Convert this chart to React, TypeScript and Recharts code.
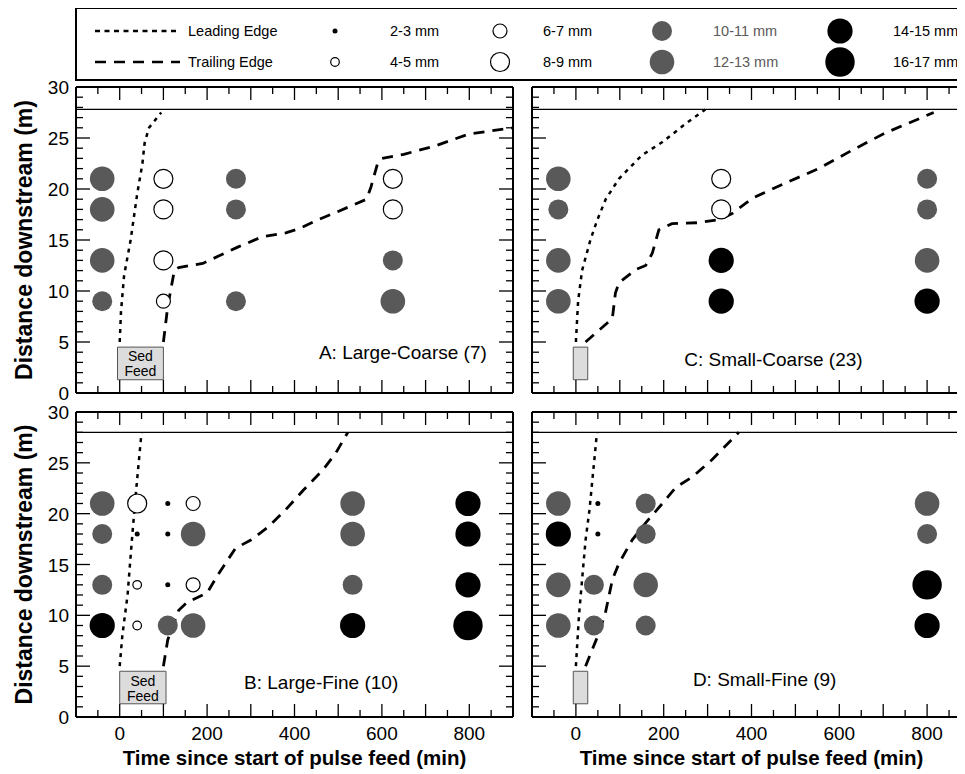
import React from 'react';
import {
  ComposedChart,
  Scatter,
  Line,
  XAxis,
  YAxis,
  ReferenceLine,
  ReferenceArea,
  ReferenceDot,
} from 'recharts';

// ---------------- data ----------------
const timeTicks = [-100, -50, 0, 50, 100, 150, 200, 250, 300, 350, 400, 450, 500, 550, 600, 650, 700, 750, 800, 850, 900];
const timeLabels = [0, 200, 400, 600, 800];
const distTicks = [0, 1, 2, 3, 4, 5, 6, 7, 8, 9, 10, 11, 12, 13, 14, 15, 16, 17, 18, 19, 20, 21, 22, 23, 24, 25, 26, 27, 28, 29, 30];
const distLabels = [0, 5, 10, 15, 20, 25, 30];

const sizeClasses = ['2-3', '4-5', '6-7', '8-9', '10-11', '12-13', '14-15', '16-17'];

// Panel A: Large-Coarse (7)
const grainsA = [
  { t: -40, d: 21, s: '12-13' }, { t: -40, d: 18, s: '12-13' }, { t: -40, d: 13, s: '12-13' }, { t: -40, d: 9, s: '10-11' },
  { t: 100, d: 21, s: '8-9' }, { t: 100, d: 18, s: '8-9' }, { t: 100, d: 13, s: '8-9' }, { t: 100, d: 9, s: '6-7' },
  { t: 266, d: 21, s: '10-11' }, { t: 266, d: 18, s: '10-11' }, { t: 266, d: 9, s: '10-11' },
  { t: 625, d: 21, s: '8-9' }, { t: 625, d: 18, s: '8-9' }, { t: 625, d: 13, s: '10-11' }, { t: 625, d: 9, s: '12-13' },
];
const leadA = [
  { t: 0, d: 5 }, { t: 3, d: 8 }, { t: 10, d: 11.5 }, { t: 25, d: 15 }, { t: 40, d: 19.5 },
  { t: 52, d: 22.5 }, { t: 57, d: 24.5 }, { t: 67, d: 26 }, { t: 95, d: 27.5 },
];
const trailA = [
  { t: 100, d: 5 }, { t: 110, d: 8.5 }, { t: 125, d: 12 }, { t: 135, d: 12.3 }, { t: 190, d: 12.7 },
  { t: 225, d: 13.4 }, { t: 270, d: 14.3 }, { t: 325, d: 15.3 }, { t: 380, d: 15.7 }, { t: 410, d: 16.1 },
  { t: 455, d: 17 }, { t: 500, d: 17.8 }, { t: 565, d: 19 }, { t: 575, d: 20.2 }, { t: 590, d: 22.5 },
  { t: 600, d: 23 }, { t: 650, d: 23.4 }, { t: 720, d: 24.2 }, { t: 800, d: 25.4 }, { t: 900, d: 26 },
];

// Panel B: Large-Fine (10)
const grainsB = [
  { t: -40, d: 21, s: '12-13' }, { t: -40, d: 18, s: '10-11' }, { t: -40, d: 13, s: '10-11' }, { t: -40, d: 9, s: '14-15' },
  { t: 40, d: 21, s: '8-9' }, { t: 40, d: 18, s: '2-3' }, { t: 40, d: 13, s: '4-5' }, { t: 40, d: 9, s: '4-5' },
  { t: 110, d: 21, s: '2-3' }, { t: 110, d: 18, s: '2-3' }, { t: 110, d: 13, s: '2-3' }, { t: 110, d: 9, s: '10-11' },
  { t: 168, d: 21, s: '6-7' }, { t: 168, d: 18, s: '12-13' }, { t: 168, d: 13, s: '6-7' }, { t: 168, d: 9, s: '12-13' },
  { t: 533, d: 21, s: '12-13' }, { t: 533, d: 18, s: '12-13' }, { t: 533, d: 13, s: '10-11' }, { t: 533, d: 9, s: '14-15' },
  { t: 797, d: 21, s: '14-15' }, { t: 797, d: 18, s: '14-15' }, { t: 797, d: 13, s: '14-15' }, { t: 797, d: 9, s: '16-17' },
];
const leadB = [
  { t: 0, d: 5 }, { t: 6, d: 8 }, { t: 18, d: 12 }, { t: 29, d: 18 }, { t: 38, d: 22.5 }, { t: 50, d: 28 },
];
const trailB = [
  { t: 100, d: 5 }, { t: 110, d: 7.6 }, { t: 135, d: 10.5 }, { t: 155, d: 11.3 }, { t: 200, d: 12.2 },
  { t: 225, d: 14 }, { t: 265, d: 16.6 }, { t: 300, d: 17.4 }, { t: 340, d: 18.7 }, { t: 380, d: 20.4 },
  { t: 420, d: 22.3 }, { t: 465, d: 24.3 }, { t: 495, d: 26 }, { t: 522, d: 28 },
];

// Panel C: Small-Coarse (23)
const grainsC = [
  { t: -40, d: 21, s: '12-13' }, { t: -40, d: 18, s: '10-11' }, { t: -40, d: 13, s: '12-13' }, { t: -40, d: 9, s: '12-13' },
  { t: 331, d: 21, s: '8-9' }, { t: 331, d: 18, s: '8-9' }, { t: 331, d: 13, s: '14-15' }, { t: 331, d: 9, s: '14-15' },
  { t: 800, d: 21, s: '10-11' }, { t: 800, d: 18, s: '10-11' }, { t: 800, d: 13, s: '12-13' }, { t: 800, d: 9, s: '14-15' },
];
const leadC = [
  { t: 0, d: 5 }, { t: 5, d: 9 }, { t: 14, d: 12 }, { t: 33, d: 15 }, { t: 49, d: 17 }, { t: 68, d: 19 },
  { t: 98, d: 21 }, { t: 150, d: 23.3 }, { t: 197, d: 24.6 }, { t: 250, d: 26.4 }, { t: 295, d: 27.8 },
];
const trailC = [
  { t: 22, d: 5 }, { t: 83, d: 7.3 }, { t: 90, d: 9.8 }, { t: 98, d: 10.8 }, { t: 136, d: 12.1 },
  { t: 159, d: 12.5 }, { t: 174, d: 13.7 }, { t: 189, d: 16 }, { t: 219, d: 16.6 }, { t: 280, d: 16.7 },
  { t: 326, d: 17 }, { t: 356, d: 17.6 }, { t: 402, d: 19.1 }, { t: 478, d: 20.6 }, { t: 553, d: 22 },
  { t: 629, d: 23.8 }, { t: 705, d: 25.5 }, { t: 815, d: 27.5 },
];

// Panel D: Small-Fine (9)
const grainsD = [
  { t: -40, d: 21, s: '12-13' }, { t: -40, d: 18, s: '14-15' }, { t: -40, d: 13, s: '12-13' }, { t: -40, d: 9, s: '12-13' },
  { t: 41, d: 13, s: '10-11' }, { t: 41, d: 9, s: '10-11' },
  { t: 50, d: 21, s: '2-3' }, { t: 50, d: 18, s: '2-3' },
  { t: 159, d: 21, s: '10-11' }, { t: 159, d: 18, s: '10-11' }, { t: 159, d: 13, s: '12-13' }, { t: 159, d: 9, s: '10-11' },
  { t: 800, d: 21, s: '12-13' }, { t: 800, d: 18, s: '10-11' }, { t: 800, d: 13, s: '16-17' }, { t: 800, d: 9, s: '14-15' },
];
const leadD = [
  { t: 0, d: 5 }, { t: 7, d: 10 }, { t: 22, d: 17.4 }, { t: 31, d: 20.4 }, { t: 48, d: 28 },
];
const trailD = [
  { t: 22, d: 5 }, { t: 52, d: 8.2 }, { t: 67, d: 10.2 }, { t: 83, d: 13.5 }, { t: 98, d: 15.1 },
  { t: 128, d: 17.4 }, { t: 159, d: 19.1 }, { t: 197, d: 21 }, { t: 228, d: 22.6 }, { t: 265, d: 23.6 },
  { t: 310, d: 25.3 }, { t: 371, d: 28 },
];

const panelTitles = ['A: Large-Coarse (7)', 'B: Large-Fine (10)', 'C: Small-Coarse (23)', 'D: Small-Fine (9)'];
const legendLines = ['Leading Edge', 'Trailing Edge'];

// ---------------- styles ----------------
const FONT = '"Liberation Sans", Arial, Helvetica, sans-serif';
const GRAY = '#595959';
const SIZE_STYLE: Record<string, { r: number; fill: string; stroke: string }> = {
  '2-3': { r: 2.5, fill: '#000', stroke: 'none' },
  '4-5': { r: 4.3, fill: '#fff', stroke: '#000' },
  '6-7': { r: 7, fill: '#fff', stroke: '#000' },
  '8-9': { r: 9.5, fill: '#fff', stroke: '#000' },
  '10-11': { r: 10, fill: GRAY, stroke: 'none' },
  '12-13': { r: 12.3, fill: GRAY, stroke: 'none' },
  '14-15': { r: 12.6, fill: '#000', stroke: 'none' },
  '16-17': { r: 14.7, fill: '#000', stroke: 'none' },
};
const LEAD_DASH = '4 5';
const TRAIL_DASH = '11 8';

const GrainShape = (props: any) => {
  const { cx, cy, payload } = props;
  const st = SIZE_STYLE[payload.s];
  if (cx == null || cy == null || !st) return <g />;
  return <circle cx={cx} cy={cy} r={st.r} fill={st.fill} stroke={st.stroke} strokeWidth={1.2} />;
};

const makeTick = (side: 'bottom' | 'top' | 'left' | 'right', showLabel: boolean) => (props: any) => {
  const { x, y, payload } = props;
  const v = payload.value;
  if (side === 'bottom' || side === 'top') {
    const major = v % 100 === 0;
    const len = major ? 13 : 7;
    const dir = side === 'bottom' ? -1 : 1;
    return (
      <g>
        <line x1={x} y1={y} x2={x} y2={y + dir * len} stroke="#000" strokeWidth={1.3} />
        {showLabel && timeLabels.includes(v) ? (
          <text x={x} y={y + 23} textAnchor="middle" fontSize={19} fontFamily={FONT} fill="#000">
            {v}
          </text>
        ) : null}
      </g>
    );
  }
  const major = v % 5 === 0;
  const len = major ? 14 : 7;
  const dir = side === 'left' ? 1 : -1;
  return (
    <g>
      <line x1={x} y1={y} x2={x + dir * len} y2={y} stroke="#000" strokeWidth={1.3} />
      {showLabel && distLabels.includes(v) ? (
        <text x={x - 7} y={y + 7} textAnchor="end" fontSize={19} fontFamily={FONT} fill="#000">
          {v}
        </text>
      ) : null}
    </g>
  );
};

const YTitle = (props: any) => {
  const vb = props.viewBox || {};
  const cx = vb.x + 24;
  const cy = vb.y + vb.height / 2;
  return (
    <text
      x={cx}
      y={cy}
      transform={`rotate(-90 ${cx} ${cy})`}
      textAnchor="middle"
      dominantBaseline="central"
      fontSize={23}
      fontWeight="bold"
      fontFamily={FONT}
      fill="#000"
    >
      Distance downstream (m)
    </text>
  );
};

const XTitle = (props: any) => {
  const vb = props.viewBox || {};
  return (
    <text
      x={vb.x + vb.width / 2}
      y={vb.y + 48}
      textAnchor="middle"
      fontSize={20.5}
      fontWeight="bold"
      fontFamily={FONT}
      fill="#000"
    >
      Time since start of pulse feed (min)
    </text>
  );
};

const SedLabel = (props: any) => {
  const vb = props.viewBox || {};
  const cx = vb.x + vb.width / 2;
  const cy = vb.y + vb.height / 2;
  return (
    <g>
      <text x={cx} y={cy - 2} textAnchor="middle" fontSize={14} fontFamily={FONT} fill="#000">
        Sed
      </text>
      <text x={cx} y={cy + 13} textAnchor="middle" fontSize={14} fontFamily={FONT} fill="#000">
        Feed
      </text>
    </g>
  );
};

type PanelProps = {
  plotLeft: number;
  plotTop: number;
  plotW: number;
  plotH: number;
  leftW: number;
  botH: number;
  showX: boolean;
  showY: boolean;
  grains: any[];
  lead: any[];
  trail: any[];
  feedX: [number, number];
  feedText: boolean;
  title: string;
  titleAt: [number, number];
  lineY: number;
};

function Panel(p: PanelProps) {
  const TOP = 18;
  const RIGHT = 8;
  return (
    <div style={{ position: 'absolute', left: p.plotLeft - p.leftW, top: p.plotTop - TOP }}>
      <ComposedChart
        width={p.leftW + p.plotW + RIGHT}
        height={TOP + p.plotH + p.botH}
        margin={{ top: 0, right: 0, bottom: 0, left: 0 }}
      >
        <XAxis
          xAxisId="b"
          type="number"
          dataKey="t"
          domain={[-100, 900]}
          allowDataOverflow
          ticks={timeTicks}
          interval={0}
          height={p.botH}
          tickLine={false}
          tickSize={0}
          tickMargin={0}
          axisLine={{ stroke: '#000', strokeWidth: 2 }}
          tick={makeTick('bottom', p.showX)}
          label={p.showX ? { content: XTitle } : undefined}
        />
        <XAxis
          xAxisId="t"
          orientation="top"
          type="number"
          dataKey="t"
          domain={[-100, 900]}
          allowDataOverflow
          ticks={timeTicks}
          interval={0}
          height={TOP}
          tickLine={false}
          tickSize={0}
          tickMargin={0}
          axisLine={{ stroke: '#000', strokeWidth: 2 }}
          tick={makeTick('top', false)}
        />
        <YAxis
          yAxisId="l"
          type="number"
          dataKey="d"
          domain={[0, 30]}
          allowDataOverflow
          ticks={distTicks}
          interval={0}
          width={p.leftW}
          tickLine={false}
          tickSize={0}
          tickMargin={0}
          axisLine={{ stroke: '#000', strokeWidth: 2 }}
          tick={makeTick('left', p.showY)}
          label={p.showY ? { content: YTitle } : undefined}
        />
        <YAxis
          yAxisId="r"
          orientation="right"
          type="number"
          dataKey="d"
          domain={[0, 30]}
          allowDataOverflow
          ticks={distTicks}
          interval={0}
          width={RIGHT}
          tickLine={false}
          tickSize={0}
          tickMargin={0}
          axisLine={{ stroke: '#000', strokeWidth: 2 }}
          tick={makeTick('right', false)}
        />
        <ReferenceLine xAxisId="b" yAxisId="l" y={p.lineY} stroke="#000" strokeWidth={1.3} />
        <ReferenceArea
          xAxisId="b"
          yAxisId="l"
          x1={p.feedX[0]}
          x2={p.feedX[1]}
          y1={1.3}
          y2={4.5}
          fill="#dcdcdc"
          fillOpacity={1}
          stroke="#555"
          strokeWidth={1}
          label={p.feedText ? { content: SedLabel } : undefined}
        />
        <ReferenceDot
          xAxisId="b"
          yAxisId="l"
          x={p.titleAt[0]}
          y={p.titleAt[1]}
          r={0}
          fill="none"
          stroke="none"
          label={{ value: p.title, position: 'center', fontSize: 19, fill: '#000', fontFamily: FONT }}
        />
        <Scatter
          xAxisId="b"
          yAxisId="l"
          data={p.grains}
          dataKey="d"
          shape={GrainShape}
          isAnimationActive={false}
        />
        <Line
          xAxisId="b"
          yAxisId="l"
          data={p.lead}
          dataKey="d"
          type="linear"
          stroke="#000"
          strokeWidth={2.5}
          strokeDasharray={LEAD_DASH}
          dot={false}
          activeDot={false}
          isAnimationActive={false}
        />
        <Line
          xAxisId="b"
          yAxisId="l"
          data={p.trail}
          dataKey="d"
          type="linear"
          stroke="#000"
          strokeWidth={2.8}
          strokeDasharray={TRAIL_DASH}
          dot={false}
          activeDot={false}
          isAnimationActive={false}
        />
      </ComposedChart>
    </div>
  );
}

function LegendBox() {
  const row = [31, 62];
  const cols = [
    { cx: 335, lx: 390, color: '#000' },
    { cx: 500, lx: 543, color: '#000' },
    { cx: 662, lx: 713, color: GRAY },
    { cx: 840, lx: 893, color: '#000' },
  ];
  return (
    <svg width={965} height={86} style={{ position: 'absolute', left: 0, top: 0 }}>
      <rect x={76} y={8} width={920} height={72} fill="#fff" stroke="#000" strokeWidth={2} />
      <line x1={95} y1={row[0]} x2={180} y2={row[0]} stroke="#000" strokeWidth={2.5} strokeDasharray="5 4.5" />
      <line x1={95} y1={row[1]} x2={180} y2={row[1]} stroke="#000" strokeWidth={2.5} strokeDasharray="11 8" />
      {legendLines.map((t, i) => (
        <text key={t} x={188} y={row[i] + 5} fontSize={14.5} fontFamily={FONT} fill="#000">
          {t}
        </text>
      ))}
      {sizeClasses.map((s, i) => {
        const c = cols[Math.floor(i / 2)];
        const y = row[i % 2];
        const st = SIZE_STYLE[s];
        return (
          <g key={s}>
            <circle cx={c.cx} cy={y} r={st.r} fill={st.fill} stroke={st.stroke} strokeWidth={1.2} />
            <text x={c.lx} y={y + 5} fontSize={14.5} fontFamily={FONT} fill={c.color}>
              {s} mm
            </text>
          </g>
        );
      })}
    </svg>
  );
}

export default function App() {
  return (
    <div
      style={{
        position: 'relative',
        width: 965,
        height: 774,
        overflow: 'hidden',
        margin: '-8px 0 0 -8px',
        background: '#fff',
        fontFamily: FONT,
      }}
    >
      <LegendBox />
      <Panel
        plotLeft={76} plotTop={87} plotW={437} plotH={306} leftW={76} botH={18}
        showX={false} showY={true}
        grains={grainsA} lead={leadA} trail={trailA}
        feedX={[-5, 100]} feedText={true}
        title={panelTitles[0]} titleAt={[648, 3.95]} lineY={27.8}
      />
      <Panel
        plotLeft={76} plotTop={412} plotW={437} plotH={305} leftW={76} botH={60}
        showX={true} showY={true}
        grains={grainsB} lead={leadB} trail={trailB}
        feedX={[0, 106]} feedText={true}
        title={panelTitles[1]} titleAt={[461, 3.37]} lineY={28}
      />
      <Panel
        plotLeft={532} plotTop={87} plotW={439} plotH={306} leftW={8} botH={18}
        showX={false} showY={false}
        grains={grainsC} lead={leadC} trail={trailC}
        feedX={[-6, 27]} feedText={false}
        title={panelTitles[2]} titleAt={[450, 3.33]} lineY={27.8}
      />
      <Panel
        plotLeft={532} plotTop={412} plotW={439} plotH={305} leftW={8} botH={60}
        showX={true} showY={false}
        grains={grainsD} lead={leadD} trail={trailD}
        feedX={[-6, 27]} feedText={false}
        title={panelTitles[3]} titleAt={[430, 3.74]} lineY={28}
      />
    </div>
  );
}
